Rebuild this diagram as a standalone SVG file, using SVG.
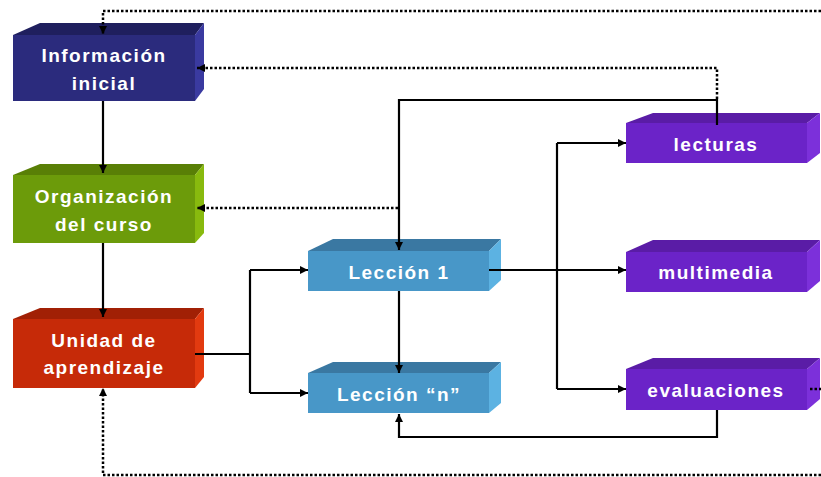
<svg xmlns="http://www.w3.org/2000/svg" width="821" height="477" viewBox="0 0 821 477">
<style>
.t{font-family:"Liberation Sans",Arial,sans-serif;font-weight:bold;font-size:19px;fill:#fff;text-anchor:middle;letter-spacing:1.5px}
.ln{fill:none;stroke:#000;stroke-width:2.2}
.dt{fill:none;stroke:#000;stroke-width:2.5;stroke-dasharray:2.5 2}
.nav .f{fill:#2b2b7d}.nav .u{fill:#1f1f5e}.nav .r{fill:#3a3aa0}
.grn .f{fill:#6c9b0a}.grn .u{fill:#597f06}.grn .r{fill:#88ba0e}
.red .f{fill:#c62a08}.red .u{fill:#a12005}.red .r{fill:#e23a10}
.blu .f{fill:#4897c8}.blu .u{fill:#3a78a2}.blu .r{fill:#5cb2e2}
.pur .f{fill:#6b23c8}.pur .u{fill:#5a1ca6}.pur .r{fill:#7c30da}
</style>
<defs>
<marker id="ah" viewBox="0 0 8 8" refX="8" refY="4" markerWidth="8" markerHeight="8" markerUnits="userSpaceOnUse" orient="auto">
<path d="M0,0 L8,4 L0,8 z" fill="#000"/>
</marker>
</defs>

<g id="info" class="nav">
<polygon class="u" points="13,35 40,23 204,23 195,35"/>
<polygon class="r" points="195,35 204,23 204,89 195,101"/>
<rect class="f" x="13" y="35" width="182" height="66"/>
<text class="t" x="104" y="62">Información</text>
<text class="t" x="104" y="90">inicial</text>
</g>

<g id="org" class="grn">
<polygon class="u" points="13,175 40,164 204,164 195,175"/>
<polygon class="r" points="195,175 204,164 204,233 195,243"/>
<rect class="f" x="13" y="175" width="182" height="68"/>
<text class="t" x="104" y="203">Organización</text>
<text class="t" x="104" y="231">del curso</text>
</g>

<g id="unidad" class="red">
<polygon class="u" points="13,319 40,308 204,308 195,319"/>
<polygon class="r" points="195,319 204,308 204,377 195,388"/>
<rect class="f" x="13" y="319" width="182" height="69"/>
<text class="t" x="104" y="347">Unidad de</text>
<text class="t" x="104" y="374">aprendizaje</text>
</g>

<g id="leccion1" class="blu">
<polygon class="u" points="308,251 333,239 501,239 489,251"/>
<polygon class="r" points="489,251 501,239 501,280 489,291"/>
<rect class="f" x="308" y="251" width="181" height="40"/>
<text class="t" x="399" y="279">Lección 1</text>
</g>

<g id="leccionn" class="blu">
<polygon class="u" points="308,373 333,362 501,362 489,373"/>
<polygon class="r" points="489,373 501,362 501,403 489,413"/>
<rect class="f" x="308" y="373" width="181" height="40"/>
<text class="t" x="399" y="401">Lección “n”</text>
</g>

<g id="lecturas" class="pur">
<polygon class="u" points="626,123 653,113 820,113 807,123"/>
<polygon class="r" points="807,123 820,113 820,153 807,163"/>
<rect class="f" x="626" y="123" width="181" height="40"/>
<text class="t" x="716" y="151">lecturas</text>
</g>

<g id="multimedia" class="pur">
<polygon class="u" points="626,252 653,240 820,240 807,252"/>
<polygon class="r" points="807,252 820,240 820,281 807,292"/>
<rect class="f" x="626" y="252" width="181" height="40"/>
<text class="t" x="716" y="279">multimedia</text>
</g>

<g id="evaluaciones" class="pur">
<polygon class="u" points="626,369 653,358 820,358 807,369"/>
<polygon class="r" points="807,369 820,358 820,399 807,410"/>
<rect class="f" x="626" y="369" width="181" height="41"/>
<text class="t" x="716" y="397">evaluaciones</text>
</g>

<g id="connectors">
<path class="ln" d="M103,101 V173" marker-end="url(#ah)"/>
<path class="ln" d="M103,243 V317" marker-end="url(#ah)"/>
<path class="ln" d="M195,354 H250"/>
<path class="ln" d="M250,270 V393"/>
<path class="ln" d="M250,270 H308" marker-end="url(#ah)"/>
<path class="ln" d="M250,393 H308" marker-end="url(#ah)"/>
<path class="ln" d="M399,291 V373" marker-end="url(#ah)"/>
<path class="ln" d="M717,125 V100 H399 V250" marker-end="url(#ah)"/>
<path class="ln" d="M489,270 H626" marker-end="url(#ah)"/>
<path class="ln" d="M557,143 V389"/>
<path class="ln" d="M557,143 H626" marker-end="url(#ah)"/>
<path class="ln" d="M557,389 H626" marker-end="url(#ah)"/>
<path class="ln" d="M717,410 V437 H399 V414" marker-end="url(#ah)"/>
<path class="dt" d="M717,99 V68 H197" marker-end="url(#ah)"/>
<path class="dt" d="M398,208 H197" marker-end="url(#ah)"/>
<path class="dt" d="M821,11 H103 V34" marker-end="url(#ah)"/>
<path class="dt" d="M821,475 H103 V388" marker-end="url(#ah)"/>
<path class="dt" d="M810,389 H821"/>
</g>
</svg>
